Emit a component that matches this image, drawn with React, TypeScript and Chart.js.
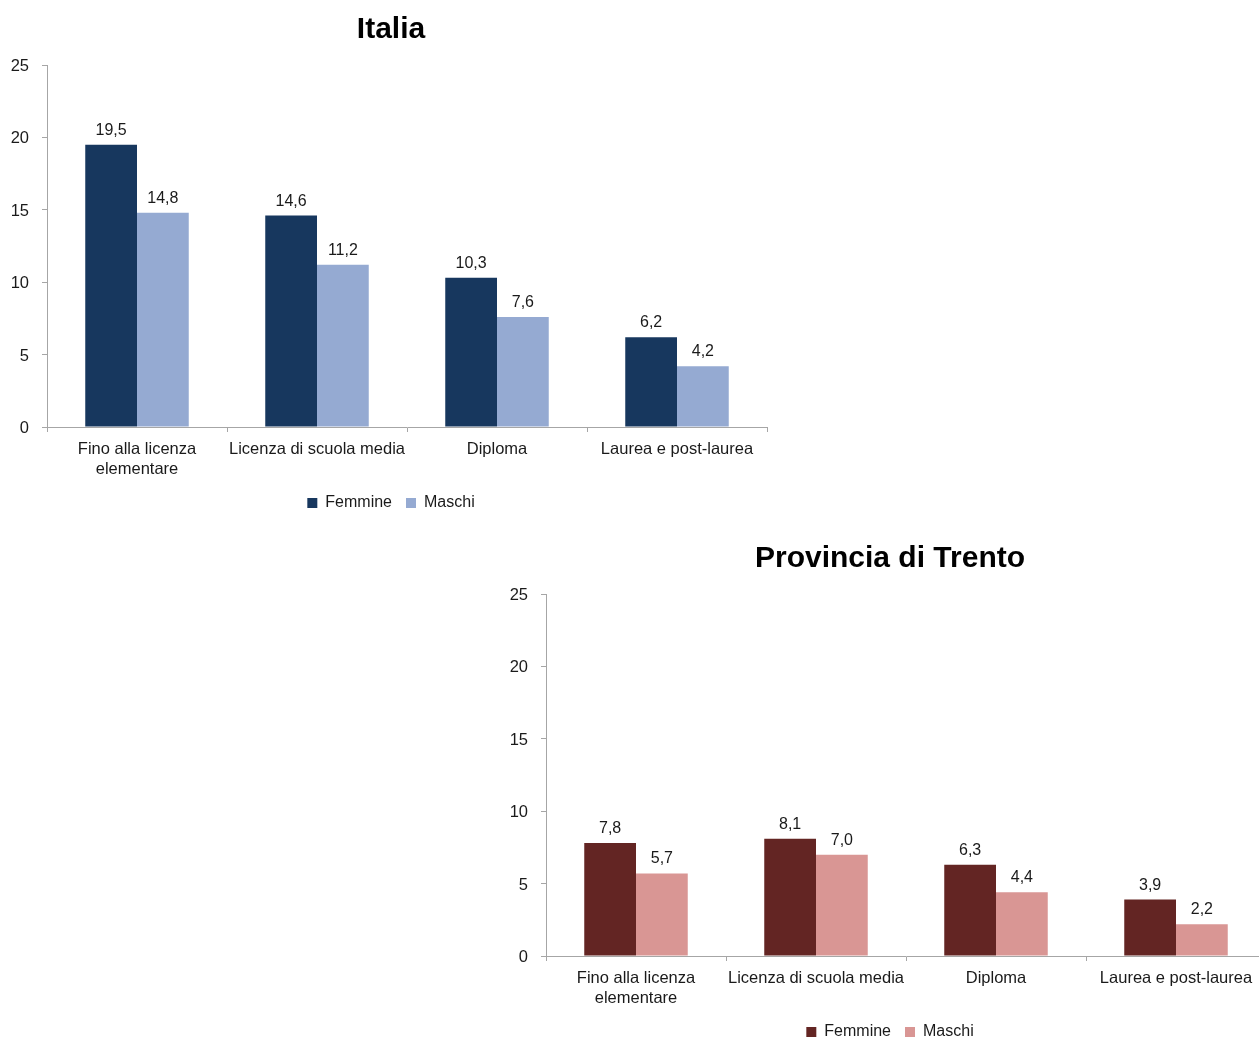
import React, { useEffect, useRef } from "react";
import { Chart, registerables } from "chart.js";

Chart.register(...registerables);

const categories: (string | string[])[] = [
  ["Fino alla licenza", "elementare"],
  "Licenza di scuola media",
  "Diploma",
  "Laurea e post-laurea",
];
const seriesNames = ["Femmine", "Maschi"];

const italiaFemmine = [19.5, 14.6, 10.3, 6.2];
const italiaMaschi = [14.8, 11.2, 7.6, 4.2];
const trentoFemmine = [7.8, 8.1, 6.3, 3.9];
const trentoMaschi = [5.7, 7.0, 4.4, 2.2];

const yMin = 0;
const yMax = 25;
const yStep = 5;

const FONT = '"Liberation Sans", Arial, sans-serif';
const AXIS_COLOR = "#A6A6A6";
const TEXT_COLOR = "#1a1a1a";

const valueLabels = {
  id: "valueLabels",
  afterDatasetsDraw(chart: any) {
    const ctx = chart.ctx;
    ctx.save();
    ctx.font = `16px ${FONT}`;
    ctx.fillStyle = TEXT_COLOR;
    ctx.textAlign = "center";
    ctx.textBaseline = "alphabetic";
    chart.data.datasets.forEach((ds: any, i: number) => {
      const meta = chart.getDatasetMeta(i);
      meta.data.forEach((bar: any, j: number) => {
        const v = ds.data[j] as number;
        ctx.fillText(v.toFixed(1).replace(".", ","), bar.x, bar.y - 10);
      });
    });
    ctx.restore();
  },
};

type Props = {
  title: string;
  femmine: number[];
  maschi: number[];
  colors: [string, string];
  left: number;
  top: number;
};

const W = 782;
const H = 522;

function BarChart({ title, femmine, maschi, colors, left, top }: Props) {
  const ref = useRef<HTMLCanvasElement | null>(null);
  useEffect(() => {
    if (!ref.current) return;
    const chart = new Chart(ref.current, {
      type: "bar",
      data: {
        labels: categories,
        datasets: [
          {
            label: seriesNames[0],
            data: femmine,
            backgroundColor: colors[0],
            categoryPercentage: 0.575,
            barPercentage: 1,
          },
          {
            label: seriesNames[1],
            data: maschi,
            backgroundColor: colors[1],
            categoryPercentage: 0.575,
            barPercentage: 1,
          },
        ],
      },
      options: {
        responsive: false,
        animation: false,
        devicePixelRatio: 1,
        layout: { padding: { left: 0, right: 0, top: 0, bottom: 1 } },
        font: { family: FONT },
        plugins: {
          title: {
            display: true,
            text: title,
            color: "#000",
            font: { family: FONT, size: 30, weight: "bold", lineHeight: 1.2 },
            padding: { top: 12, bottom: 17 },
          },
          legend: {
            position: "bottom",
            labels: {
              color: TEXT_COLOR,
              font: { family: FONT, size: 16 },
              boxWidth: 10,
              boxHeight: 10,
              padding: 14,
            },
          },
          tooltip: { enabled: false },
        },
        scales: {
          x: {
            grid: {
              offset: true,
              drawOnChartArea: false,
              drawTicks: true,
              tickLength: 5,
              color: AXIS_COLOR,
            },
            border: { color: AXIS_COLOR },
            ticks: {
              color: TEXT_COLOR,
              font: { family: FONT, size: 16.5, lineHeight: 1.17 },
              padding: 8,
              maxRotation: 0,
              autoSkip: false,
            },
            afterFit: (scale: any) => {
              scale.height = 54;
            },
          },
          y: {
            min: yMin,
            max: yMax,
            grid: {
              drawOnChartArea: false,
              drawTicks: true,
              tickLength: 5,
              color: AXIS_COLOR,
            },
            border: { color: AXIS_COLOR },
            ticks: {
              stepSize: yStep,
              color: TEXT_COLOR,
              font: { family: FONT, size: 16.5 },
              padding: 13,
              labelOffset: 1.5,
            },
            afterFit: (scale: any) => {
              scale.width = 47;
            },
          },
          yPad: {
            type: "linear",
            position: "right",
            display: true,
            grid: { display: false, drawTicks: false },
            border: { display: false },
            ticks: { display: false },
            afterFit: (scale: any) => {
              scale.width = 15;
            },
          },
        },
      } as any,
      plugins: [valueLabels],
    });
    return () => chart.destroy();
  }, []);
  return (
    <canvas
      ref={ref}
      width={W}
      height={H}
      style={{ position: "absolute", left, top, width: W, height: H }}
    />
  );
}

export default function App() {
  return (
    <div
      style={{
        position: "absolute",
        left: 0,
        top: 0,
        width: 1259,
        height: 1037,
        overflow: "hidden",
        background: "#fff",
      }}
    >
      <BarChart
        title="Italia"
        femmine={italiaFemmine}
        maschi={italiaMaschi}
        colors={["#17375E", "#95AAD2"]}
        left={0}
        top={0}
      />
      <BarChart
        title="Provincia di Trento"
        femmine={trentoFemmine}
        maschi={trentoMaschi}
        colors={["#632523", "#D99694"]}
        left={499}
        top={529}
      />
    </div>
  );
}
